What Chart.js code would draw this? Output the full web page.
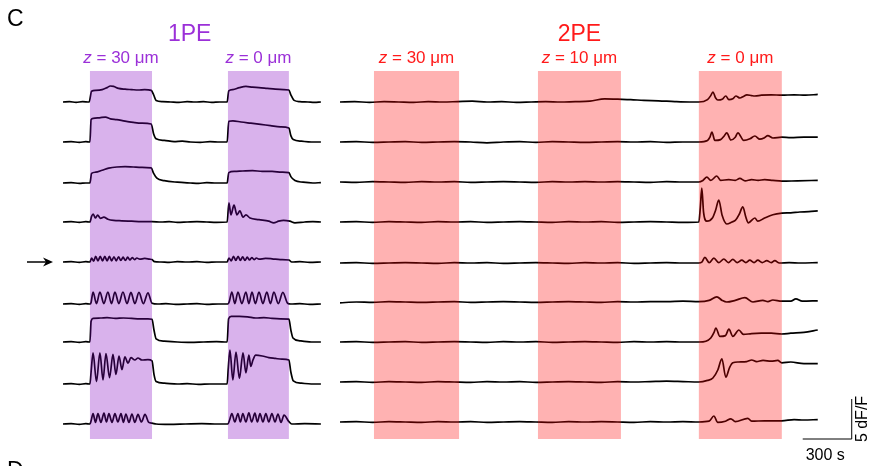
<!DOCTYPE html>
<html>
<head>
<meta charset="utf-8">
<script src="https://cdn.jsdelivr.net/npm/chart.js@4.4.1/dist/chart.umd.min.js"></script>
<style>
  body { margin: 0; background: #fff; }
  canvas { display: block; }
</style>
</head>
<body>
<canvas id="traces" width="874" height="466"></canvas>
<script>
// stimulation periods (s), measured from the start of each panel
const onePEStim = [[165, 545], [1010, 1383]];
const twoPEStim = [[208, 729], [1212, 1720], [2197, 2705]];
const onePELabels = ['30', '0'];
const twoPELabels = ['30', '10', '0'];

// 1PE traces, [time s, dF/F]
const L1 = [[0,0],[40,0.05],[80,-0.05],[120,0.05],[160,0],[175,1.35],[200,1.45],[240,1.55],[270,1.8],[290,2.0],[310,1.95],[340,1.7],[380,1.6],[420,1.55],[460,1.5],[500,1.55],[540,1.45],[555,0.9],[570,0.2],[610,0.05],[660,0],[710,-0.05],[760,0.05],[810,0],[860,0.05],[910,-0.05],[960,0],[1005,0],[1015,1.4],[1040,1.55],[1080,1.8],[1120,1.95],[1160,1.85],[1200,1.8],[1250,1.7],[1300,1.6],[1350,1.55],[1383,1.5],[1395,0.9],[1415,0.2],[1450,0.05],[1500,0],[1540,-0.05],[1579,0]];
const L2 = [[0,0],[50,0.05],[100,-0.05],[140,0.05],[165,0],[172,2.8],[185,2.95],[230,3.05],[260,3.1],[290,2.9],[330,2.8],[380,2.6],[430,2.45],[480,2.35],[540,2.25],[555,1.0],[570,0.4],[620,0.2],[680,0.05],[730,0.1],[780,0],[840,-0.05],[900,0.05],[960,0],[1005,0],[1015,2.6],[1040,2.65],[1090,2.5],[1150,2.35],[1210,2.2],[1270,2.05],[1330,1.9],[1383,1.75],[1395,0.8],[1410,0.3],[1460,0.1],[1520,0],[1579,0]];
const L3 = [[0,0],[50,0.05],[100,-0.05],[140,0],[165,0],[175,1.2],[200,1.35],[240,1.6],[280,1.85],[330,2.0],[380,2.05],[430,2.0],[480,1.95],[540,1.9],[555,1.2],[575,0.6],[620,0.3],[700,0.1],[780,0],[830,-0.05],[880,0.05],[940,0],[1005,0],[1015,1.3],[1050,1.45],[1100,1.5],[1160,1.55],[1220,1.45],[1280,1.45],[1340,1.35],[1383,1.3],[1395,0.8],[1420,0.3],[1470,0.1],[1530,0],[1579,0.05]];
const L4 = [[0,0],[50,0.05],[100,-0.05],[140,0.05],[165,0],[175,0.7],[185,1.0],[198,0.5],[212,0.85],[230,0.45],[250,0.6],[275,0.35],[310,0.2],[360,0.15],[420,0.1],[480,0.05],[545,0.05],[600,0],[650,0.05],[700,-0.05],[760,0],[820,0.05],[880,0],[940,-0.05],[1005,0],[1016,2.4],[1028,0.9],[1047,2.1],[1065,0.9],[1083,1.4],[1102,0.6],[1120,0.9],[1145,0.5],[1200,0.3],[1260,0.1],[1290,-0.1],[1320,0.1],[1350,0.2],[1389,0.1],[1420,-0.1],[1480,0],[1530,0.05],[1579,0]];
const L5 = [[0,0],[50,0.05],[100,-0.05],[140,0.05],[165,0],[175,0.5],[188,0.1],[200,0.7],[214,0.15],[228,0.7],[242,0.15],[256,0.7],[270,0.15],[284,0.7],[298,0.15],[312,0.65],[326,0.15],[340,0.65],[354,0.2],[368,0.6],[382,0.2],[396,0.6],[410,0.25],[424,0.55],[438,0.3],[452,0.5],[470,0.35],[500,0.45],[530,0.35],[545,0.3],[560,0.05],[600,0],[650,-0.05],[700,0.05],[760,0],[820,0.05],[880,-0.05],[940,0],[1005,0],[1016,0.5],[1030,0.15],[1044,0.7],[1058,0.2],[1072,0.7],[1086,0.2],[1100,0.65],[1114,0.2],[1128,0.6],[1142,0.25],[1156,0.55],[1170,0.3],[1184,0.5],[1200,0.35],[1240,0.45],[1280,0.4],[1330,0.3],[1383,0.25],[1400,0],[1450,0.05],[1510,-0.05],[1579,0]];
const L6 = [[0,0],[50,0.05],[100,-0.05],[140,0.05],[165,0],[172,0.2],[184,1.5],[205,0.05],[226,1.5],[250,0.05],[275,1.5],[297,0.05],[318,1.5],[342,0.05],[367,1.5],[392,0.05],[416,1.45],[440,0.05],[465,1.45],[492,0.05],[520,1.4],[545,0.1],[580,0],[630,0.05],[690,-0.05],[760,0],[820,0.05],[880,-0.05],[950,0],[1010,0],[1018,0.3],[1034,1.5],[1052,0.05],[1071,1.5],[1095,0.05],[1120,1.5],[1138,0.05],[1157,1.5],[1178,0.05],[1200,1.5],[1224,0.05],[1248,1.5],[1270,0.05],[1291,1.5],[1318,0.05],[1346,1.45],[1375,0.1],[1395,0],[1450,0.05],[1510,-0.05],[1579,0]];
const L7 = [[0,0],[50,0.05],[100,-0.05],[140,0.05],[165,0],[172,2.6],[185,2.95],[230,3.0],[270,3.05],[320,2.95],[370,3.0],[420,2.95],[470,2.9],[520,2.9],[545,2.85],[557,1.5],[570,0.4],[620,0.1],[700,0],[780,-0.05],[860,0],[940,0.05],[1005,0],[1014,2.9],[1030,3.2],[1080,3.2],[1130,3.15],[1180,3.0],[1230,3.05],[1280,2.95],[1330,2.9],[1383,2.85],[1395,1.5],[1408,0.5],[1450,0.15],[1520,0],[1579,0]];
const L8 = [[0,0],[50,0.05],[100,-0.05],[140,0.05],[165,0],[172,1.5],[184,3.9],[205,0.3],[226,3.9],[245,0.5],[263,3.8],[285,0.8],[306,3.7],[324,1.2],[343,3.5],[361,1.8],[379,3.4],[398,2.6],[416,3.3],[440,3.0],[459,3.25],[483,3.0],[520,3.05],[545,2.9],[557,1.2],[570,0.3],[620,0.1],[700,0],[760,0.05],[830,-0.05],[900,0],[1005,0],[1012,2.0],[1022,4.25],[1040,0.5],[1059,4.0],[1080,0.7],[1102,3.9],[1120,1.4],[1138,3.6],[1150,2.2],[1163,3.0],[1180,3.6],[1220,3.5],[1260,3.3],[1300,3.2],[1340,3.1],[1383,3.0],[1395,1.5],[1410,0.4],[1460,0.1],[1520,0],[1579,0]];
const L9 = [[0,0],[50,0.05],[100,-0.05],[140,0.05],[165,0],[172,0.4],[184,1.3],[199,0.2],[214,1.3],[232,0.2],[251,1.35],[266,0.25],[281,1.3],[300,0.2],[318,1.3],[336,0.25],[355,1.3],[370,0.2],[385,1.25],[404,0.2],[422,1.25],[440,0.2],[459,1.2],[480,0.25],[502,1.2],[525,0.2],[545,0.1],[570,0],[650,-0.05],[750,0],[850,0.05],[950,0],[1010,0],[1020,0.5],[1034,1.3],[1052,0.25],[1071,1.3],[1086,0.25],[1101,1.3],[1120,0.25],[1138,1.4],[1155,0.25],[1175,1.35],[1190,0.25],[1206,1.3],[1224,0.25],[1242,1.3],[1260,0.25],[1279,1.3],[1298,0.25],[1316,1.25],[1335,0.2],[1353,1.1],[1383,0.3],[1400,0],[1480,0.05],[1579,0]];

// 2PE traces, [time s, dF/F]
const R1 = [[0,0],[90,0.05],[180,-0.05],[270,0.05],[360,0],[450,-0.05],[540,0.05],[630,0],[720,0.05],[810,0.1],[900,0],[990,0.05],[1080,-0.05],[1170,0],[1260,0.05],[1350,0],[1440,0.05],[1530,0.1],[1620,0.4],[1700,0.35],[1780,0.3],[1860,0.2],[1950,0.15],[2050,0.05],[2140,0],[2197,0],[2250,0.3],[2270,0.8],[2283,1.25],[2300,0.5],[2313,0.25],[2340,0.35],[2362,0.75],[2381,0.3],[2405,0.4],[2424,0.75],[2448,0.5],[2470,0.7],[2491,0.9],[2520,0.8],[2540,0.75],[2580,0.85],[2640,0.9],[2705,0.85],[2780,0.9],[2850,0.85],[2925,0.95]];
const R2 = [[0,0],[100,0.05],[200,-0.05],[300,0],[400,0.05],[500,-0.05],[600,0],[700,0.05],[800,0],[900,-0.1],[1000,0],[1100,0.05],[1200,-0.05],[1300,0.05],[1400,0],[1500,-0.05],[1600,0],[1700,0.05],[1800,0],[1900,0.05],[2000,-0.05],[2100,0],[2197,0],[2250,0.2],[2265,0.6],[2277,1.25],[2295,0.2],[2330,0.3],[2350,0.7],[2368,1.15],[2393,0.25],[2420,0.6],[2436,1.15],[2472,0.2],[2510,0.4],[2540,0.75],[2570,0.35],[2600,0.55],[2619,0.8],[2650,0.5],[2705,0.6],[2760,0.55],[2840,0.6],[2925,0.6]];
const R3 = [[0,0],[100,-0.05],[200,0.05],[300,0],[400,-0.05],[500,0.05],[600,0],[700,0.05],[800,-0.05],[900,0],[1000,0.05],[1100,0],[1200,-0.05],[1300,0.05],[1400,0],[1500,0.05],[1600,0],[1700,0.05],[1800,0],[1900,-0.05],[2000,0.05],[2100,0],[2197,0],[2222,0.2],[2246,0.6],[2270,0.2],[2307,0.75],[2330,0.2],[2380,0.3],[2420,0.2],[2448,0.45],[2480,0.15],[2520,0.3],[2560,0.2],[2600,0.3],[2650,0.2],[2705,0.1],[2800,0.15],[2925,0.2]];
const R4 = [[0,0],[100,0.05],[200,-0.05],[300,0.05],[400,0],[500,-0.05],[600,0.05],[700,0],[800,0.05],[900,-0.05],[1000,0],[1100,0.05],[1200,0],[1300,-0.05],[1400,0.05],[1500,0],[1600,0.05],[1700,-0.05],[1800,0],[1900,0.05],[2000,0],[2100,-0.05],[2197,0],[2206,1.8],[2215,4.25],[2226,1.2],[2246,0.1],[2280,0.5],[2300,1.5],[2319,2.75],[2340,0.8],[2368,-0.25],[2400,0],[2420,0.2],[2445,1.0],[2466,1.9],[2485,0.6],[2500,-0.1],[2540,0.5],[2558,0.1],[2600,0.5],[2650,0.9],[2705,1.1],[2760,1.15],[2815,1.25],[2870,1.3],[2925,1.4]];
const R5 = [[0,0],[100,0.05],[200,-0.05],[300,0],[400,0.05],[500,0],[600,-0.05],[700,0.05],[800,0],[900,0.05],[1000,-0.05],[1100,0],[1200,0.05],[1300,0],[1400,-0.05],[1500,0.05],[1600,0],[1700,0.05],[1800,-0.05],[1900,0],[2000,0.05],[2100,0],[2197,0],[2215,0.1],[2234,0.7],[2260,0.05],[2289,0.6],[2320,0.05],[2350,0.5],[2378,0.05],[2405,0.45],[2432,0.05],[2460,0.35],[2485,0.05],[2509,0.35],[2535,0.05],[2558,0.35],[2585,0.05],[2613,0.3],[2640,0.05],[2662,0.3],[2690,0],[2750,0.05],[2820,0],[2925,0.05]];
const R6 = [[0,-0.1],[100,0],[200,-0.05],[300,0.05],[400,0],[500,-0.05],[600,0],[700,0.05],[800,-0.05],[900,0],[1000,0.05],[1100,0],[1200,-0.05],[1300,0],[1400,0.05],[1500,0],[1600,-0.05],[1700,0.05],[1800,0],[1900,0.05],[2000,0.05],[2100,0.1],[2197,0.05],[2260,0.2],[2307,0.65],[2340,0.2],[2368,0],[2420,0.2],[2479,0.55],[2528,0],[2589,0.2],[2620,0.05],[2650,0.25],[2705,0.1],[2760,0.1],[2791,0.4],[2830,0.1],[2925,0.15]];
const R7 = [[0,0],[100,0.05],[200,-0.05],[300,0],[400,0.05],[500,-0.05],[600,0],[700,0.05],[800,0],[900,-0.05],[1000,0.05],[1100,0],[1200,0.05],[1300,-0.05],[1400,0],[1500,0.05],[1600,0],[1700,-0.05],[1800,0.05],[1900,0],[2000,0.05],[2100,0],[2197,0],[2240,0.1],[2270,0.5],[2290,1.2],[2301,1.75],[2326,0.7],[2360,0.8],[2381,1.6],[2405,0.7],[2442,1.5],[2470,0.95],[2520,1.05],[2580,1.1],[2640,1.1],[2705,1.0],[2760,1.1],[2840,1.2],[2925,1.5]];
const R8 = [[0,0],[100,0.05],[200,-0.05],[300,0.05],[400,0],[500,-0.05],[600,0.05],[700,0],[800,-0.05],[900,0.05],[1000,0],[1100,0.05],[1200,-0.05],[1300,0],[1400,0.05],[1500,0],[1600,-0.05],[1700,0.05],[1800,0],[1900,0.05],[2000,0.1],[2100,0.05],[2197,0],[2250,0.2],[2283,0.5],[2313,1.5],[2338,2.9],[2362,0.6],[2385,1.8],[2405,2.4],[2440,2.5],[2490,2.55],[2521,2.75],[2550,2.55],[2590,2.7],[2640,2.6],[2680,2.7],[2705,2.4],[2760,2.5],[2840,2.3],[2925,2.3]];
const R9 = [[0,0],[100,0.05],[200,-0.05],[300,0.05],[400,0],[500,-0.05],[600,0.05],[700,0],[800,0.05],[900,-0.05],[1000,0],[1100,0.05],[1200,0],[1300,-0.05],[1400,0.05],[1500,0],[1600,0.05],[1700,0],[1800,-0.05],[1900,0.05],[2000,0],[2100,0.05],[2197,0],[2260,0.1],[2289,0.75],[2313,-0.05],[2360,0.1],[2393,0.4],[2420,0.05],[2497,0.45],[2520,0.1],[2600,0.15],[2705,0.15],[2780,0.3],[2840,0.25],[2925,0.3]];

const onePETraces = [L1, L2, L3, L4, L5, L6, L7, L8, L9];
const twoPETraces = [R1, R2, R3, R4, R5, R6, R7, R8, R9];

// layout: 300 s = 49 px, 5 dF/F = 40 px
const SEC_PER_PX = 300 / 49;
const UNIT_PX = 8;
const X_MIN = -63 * SEC_PER_PX;
const X_MAX = X_MIN + 874 * SEC_PER_PX;
const Y_MAX = 466 / UNIT_PX;
const RIGHT_SHIFT = 277 * SEC_PER_PX;
const leftRowBase = [45.5, 40.5, 35.375, 30.5, 25.5, 20.25, 15.5, 10.25, 5.25];
const rightRowBase = [45.5, 40.5, 35.5, 30.5, 25.375, 20.5, 15.5, 10.5, 5.5];
const FONT = '"Liberation Sans", Arial, sans-serif';

function toDataset(trace, base, shift) {
    return {
        data: trace.map(p => ({x: p[0] + shift, y: p[1] + base})),
        borderColor: '#000',
        borderWidth: 1.7,
        pointRadius: 0,
        cubicInterpolationMode: 'monotone',
        fill: false
    };
}

const datasets = [];
onePETraces.forEach((tr, i) => datasets.push(toDataset(tr, leftRowBase[i], 0)));
twoPETraces.forEach((tr, i) => datasets.push(toDataset(tr, rightRowBase[i], RIGHT_SHIFT)));

// z label with italic z
function zLabel(ctx, text, cx, y, color) {
    ctx.fillStyle = color;
    ctx.font = 'italic 17px ' + FONT;
    const wz = ctx.measureText('z').width;
    ctx.font = '17px ' + FONT;
    const rest = ' = ' + text + ' \u03bcm';
    const wr = ctx.measureText(rest).width;
    const x0 = cx - (wz + wr) / 2;
    ctx.textAlign = 'left';
    ctx.font = 'italic 17px ' + FONT;
    ctx.fillText('z', x0, y);
    ctx.font = '17px ' + FONT;
    ctx.fillText(rest, x0 + wz, y);
}

const decor = {
    id: 'decor',
    beforeDraw(chart) {
        const c = chart.ctx;
        c.save();
        c.fillStyle = '#fff';
        c.fillRect(0, 0, chart.width, chart.height);
        c.restore();
    },
    afterDatasetsDraw(chart) {
        const c = chart.ctx, xs = chart.scales.x;
        c.save();
        // stimulus shading sits over the traces
        c.fillStyle = 'rgba(128, 0, 192, 0.3)';
        onePEStim.forEach(s => {
            const a = xs.getPixelForValue(s[0]), b = xs.getPixelForValue(s[1]);
            c.fillRect(a, 71, b - a, 368);
        });
        c.fillStyle = 'rgba(255, 0, 0, 0.3)';
        twoPEStim.forEach(s => {
            const a = xs.getPixelForValue(s[0] + RIGHT_SHIFT), b = xs.getPixelForValue(s[1] + RIGHT_SHIFT);
            c.fillRect(a, 71, b - a, 368);
        });
        c.restore();
    },
    afterDraw(chart) {
        const c = chart.ctx, xs = chart.scales.x, ys = chart.scales.y;
        c.save();
        c.textBaseline = 'alphabetic';

        // panel letters
        c.fillStyle = '#000';
        c.font = '23px ' + FONT;
        c.textAlign = 'left';
        c.fillText('C', 7, 26);
        c.fillText('D', 7, 478);

        // titles
        const purple = '#9b30d8', red = '#ff1a1a';
        const mid = s => xs.getPixelForValue((s[0] + s[1]) / 2);
        c.font = '23px ' + FONT;
        c.textAlign = 'center';
        c.fillStyle = purple;
        c.fillText('1PE', (mid(onePEStim[0]) + mid(onePEStim[1])) / 2, 41);
        c.fillStyle = red;
        c.fillText('2PE', xs.getPixelForValue((twoPEStim[1][0] + twoPEStim[1][1]) / 2 + RIGHT_SHIFT), 41);

        onePEStim.forEach((s, i) => zLabel(c, onePELabels[i], mid(s), 63, purple));
        twoPEStim.forEach((s, i) => zLabel(c, twoPELabels[i],
            xs.getPixelForValue((s[0] + s[1]) / 2 + RIGHT_SHIFT), 63, red));

        // arrow marking the cell in row 5
        const ay = ys.getPixelForValue(leftRowBase[4]);
        c.strokeStyle = '#000';
        c.fillStyle = '#000';
        c.lineWidth = 1.5;
        c.beginPath();
        c.moveTo(27, ay);
        c.lineTo(46, ay);
        c.stroke();
        c.beginPath();
        c.moveTo(53, ay);
        c.lineTo(43, ay - 4.5);
        c.lineTo(46, ay);
        c.lineTo(43, ay + 4.5);
        c.closePath();
        c.fill();

        // scale bar: 300 s, 5 dF/F
        const barEnd = 3133 + RIGHT_SHIFT;
        const bx0 = xs.getPixelForValue(barEnd - 300), bx1 = xs.getPixelForValue(barEnd);
        const by0 = ys.getPixelForValue(3.375), by1 = ys.getPixelForValue(3.375 + 5);
        c.lineWidth = 1;
        c.beginPath();
        c.moveTo(bx0, by0);
        c.lineTo(bx1, by0);
        c.lineTo(bx1, by1);
        c.stroke();
        c.font = '16px ' + FONT;
        c.textAlign = 'center';
        c.fillText('300 s', (bx0 + bx1) / 2 - 2, 460);
        c.translate(867, (by0 + by1) / 2);
        c.rotate(-Math.PI / 2);
        c.fillText('5 dF/F', 0, 0);
        c.restore();
    }
};

new Chart(document.getElementById('traces'), {
    type: 'line',
    data: {datasets: datasets},
    options: {
        responsive: false,
        animation: false,
        events: [],
        layout: {padding: 0},
        plugins: {legend: {display: false}, tooltip: {enabled: false}},
        scales: {
            x: {type: 'linear', display: false, min: X_MIN, max: X_MAX},
            y: {display: false, min: 0, max: Y_MAX}
        }
    },
    plugins: [decor]
});
</script>
</body>
</html>
